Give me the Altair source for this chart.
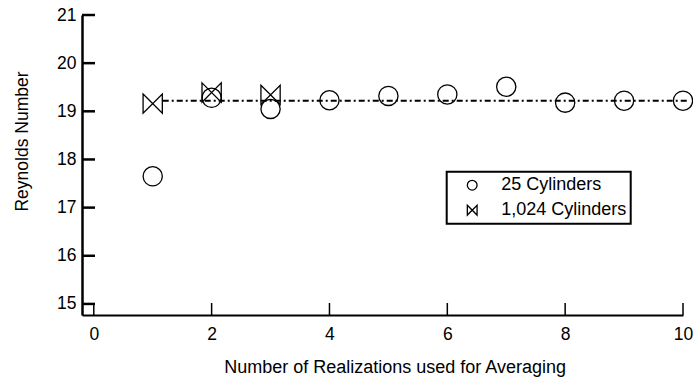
import altair as alt
import pandas as pd

# ---- data ----
realizations_25 = [1, 2, 3, 4, 5, 6, 7, 8, 9, 10]
reynolds_25 = [17.65, 19.28, 19.05, 19.23, 19.32, 19.35, 19.51, 19.18, 19.22, 19.22]
realizations_1024 = [1, 2, 3]
reynolds_1024 = [19.16, 19.39, 19.34]
series_names = ["25 Cylinders", "1,024 Cylinders"]
mean_value = [19.22]
mean_start = [1.17]
mean_end = [10.07]
x_ticks = [0, 2, 4, 6, 8, 10]
y_ticks = [15, 16, 17, 18, 19, 20, 21]
x_domain = [-0.2, 10]
y_domain = [14.77, 21]

BOWTIE = "M-1,-1L1,1L1,-1L-1,1Z"
FONT = "Liberation Sans"

pts = pd.DataFrame({
    "x": realizations_25 + realizations_1024,
    "y": reynolds_25 + reynolds_1024,
    "series": [series_names[0]] * len(realizations_25) + [series_names[1]] * len(realizations_1024),
})
mean_df = pd.DataFrame({"x0": mean_start, "x1": mean_end, "y": mean_value})
xt_df = pd.DataFrame({"v": x_ticks})
yt_df = pd.DataFrame({"v": y_ticks})

xs = alt.Scale(domain=x_domain, nice=False, zero=False)
ys = alt.Scale(domain=y_domain, nice=False, zero=False)

x_axis = alt.Axis(
    values=x_ticks, title="Number of Realizations used for Averaging",
    domainColor="black", domainWidth=2, ticks=False, tickSize=0, grid=False,
    labelPadding=10, labelFontSize=17.5, labelFont=FONT, labelColor="black",
    labelFlush=False, labelOverlap=False,
    titleFont=FONT, titleFontSize=18, titleFontWeight="normal", titleColor="black",
    titleX=312.6, titleY=57.5, titleBaseline="alphabetic", titleAlign="center",
)
y_axis = alt.Axis(
    values=y_ticks, title="Reynolds Number",
    domainColor="black", domainWidth=2.5, ticks=False, tickSize=0, grid=False,
    labelPadding=6, labelFontSize=17.5, labelFont=FONT, labelColor="black",
    labelFlush=False, labelOverlap=False,
    titleFont=FONT, titleFontSize=17.5, titleFontWeight="normal", titleColor="black",
    titleX=-54.7, titleY=126, titleAngle=270, titleBaseline="alphabetic", titleAlign="center",
)

points = alt.Chart(pts).mark_point(
    filled=False, size=370, strokeWidth=1.3, color="black", opacity=1
).encode(
    x=alt.X("x:Q", scale=xs, axis=x_axis),
    y=alt.Y("y:Q", scale=ys, axis=y_axis),
    shape=alt.Shape(
        "series:N",
        scale=alt.Scale(domain=series_names, range=["circle", BOWTIE]),
        legend=alt.Legend(
            title=None, orient="none", legendX=364.7, legendY=156.7,
            padding=3.5, symbolOffset=13, labelOffset=20,
            clipHeight=20, rowPadding=5,
            strokeColor="black", fillColor="white",
            symbolSize=95, symbolStrokeWidth=1.3, symbolStrokeColor="black",
            symbolFillColor="transparent",
            labelFont=FONT, labelFontSize=18, labelColor="black",
        ),
    ),
)
ytick_layer = alt.Chart(yt_df).mark_rule(color="black", strokeWidth=2.5).encode(
    y=alt.Y("v:Q", scale=ys, axis=y_axis),
    x=alt.value(0), x2=alt.value(13),
)
xtick_layer = alt.Chart(xt_df).mark_rule(color="black", strokeWidth=1.5).encode(
    x=alt.X("v:Q", scale=xs, axis=x_axis),
    y=alt.value(300), y2=alt.value(288),
)
mean_layer = alt.Chart(mean_df).mark_rule(
    color="black", strokeWidth=2, strokeDash=[6, 3, 2, 3]
).encode(
    x=alt.X("x0:Q", scale=xs, axis=x_axis),
    x2="x1:Q",
    y=alt.Y("y:Q", scale=ys, axis=y_axis),
)

chart = alt.layer(points, ytick_layer, xtick_layer, mean_layer).properties(
    width=601, height=300,
    padding={"left": 82, "top": 15, "right": 10, "bottom": 63},
    autosize="none",
).configure_view(stroke=None).configure_legend(strokeWidth=2)

chart.save("out.html", embed_options={"renderer": "svg", "actions": False})
